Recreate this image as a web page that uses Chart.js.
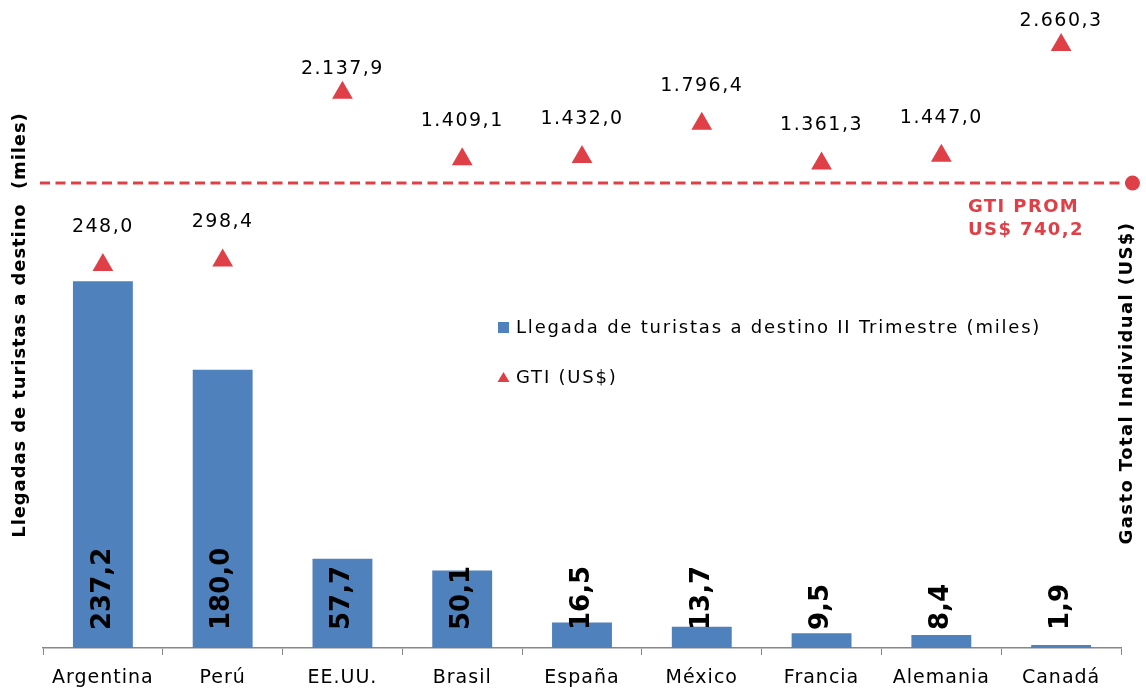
<!DOCTYPE html>
<html lang="es">
<head>
<meta charset="UTF-8">
<title>Llegadas de turistas y GTI</title>
<script src="https://cdn.jsdelivr.net/npm/chart.js"></script>
<style>
  html, body { margin: 0; padding: 0; background: #fff; }
  .wrap { width: 1146px; height: 691px; position: relative; }
</style>
</head>
<body>
<div class="wrap"><canvas id="chart"></canvas></div>
<script>
const paises = ['Argentina', 'Perú', 'EE.UU.', 'Brasil', 'España', 'México', 'Francia', 'Alemania', 'Canadá'];
const llegadas = [237.2, 180.0, 57.7, 50.1, 16.5, 13.7, 9.5, 8.4, 1.9];
const gti = [248.0, 298.4, 2137.9, 1409.1, 1432.0, 1796.4, 1361.3, 1447.0, 2660.3];
const gtiPromedio = 740.2;
const gtiLineaNivel = 1147; // where the dashed average line sits on the GTI axis in the picture

const rojo = '#df3f46';
const azul = '#4f81bd';
// how far each GTI label sits above its triangle (two were nudged down in the original)
const subidaEtiqueta = [38, 38, 24, 38, 38, 38, 38, 38, 24];
Chart.defaults.font.family = '"DejaVu Sans", Verdana, sans-serif';

// 2137.9 -> "2.137,9"
function fmt(v) {
  const partes = v.toFixed(1).split('.');
  return partes[0].replace(/\B(?=(\d{3})+(?!\d))/g, '.') + ',' + partes[1];
}

function textoVertical(ctx, texto, x, y) {
  ctx.save();
  ctx.translate(x, y);
  ctx.rotate(-Math.PI / 2);
  ctx.fillText(texto, 0, 0);
  ctx.restore();
}

const dibujo = {
  id: 'dibujo',
  beforeDraw(chart) {
    chart.ctx.letterSpacing = '1px';
  },
  beforeDatasetsDraw(chart) {
    const ctx = chart.ctx;
    const area = chart.chartArea;
    const y = chart.scales.y2.getPixelForValue(gtiLineaNivel);
    ctx.save();
    ctx.strokeStyle = rojo;
    ctx.lineWidth = 3;
    ctx.setLineDash([10, 5.5]);
    ctx.beginPath();
    ctx.moveTo(area.left - 3, y);
    ctx.lineTo(area.right + 5, y);
    ctx.stroke();
    ctx.setLineDash([]);
    ctx.fillStyle = rojo;
    ctx.beginPath();
    ctx.arc(area.right + 11.5, y, 7.5, 0, Math.PI * 2);
    ctx.fill();
    ctx.font = 'bold 18px "DejaVu Sans"';
    ctx.letterSpacing = '1.4px';
    ctx.textAlign = 'left';
    ctx.textBaseline = 'middle';
    ctx.fillText('GTI PROM', 968, y + 24);
    ctx.fillText('US$ ' + fmt(gtiPromedio), 968, y + 47);
    ctx.restore();
  },
  afterDatasetsDraw(chart) {
    const ctx = chart.ctx;
    const barras = chart.getDatasetMeta(0).data;
    const puntos = chart.getDatasetMeta(1).data;
    const base = chart.scales.y.getPixelForValue(0);
    ctx.save();
    ctx.fillStyle = '#000';
    ctx.textBaseline = 'middle';

    // valores de las barras, verticales
    ctx.font = 'bold 26px "DejaVu Sans"';
    ctx.letterSpacing = '0px';
    ctx.textAlign = 'left';
    barras.forEach((b, i) => textoVertical(ctx, fmt(llegadas[i]), b.x, base - 18));

    // valores GTI sobre los triangulos
    ctx.font = '19px "DejaVu Sans"';
    ctx.letterSpacing = '1.5px';
    ctx.textAlign = 'center';
    puntos.forEach((p, i) => ctx.fillText(fmt(gti[i]), p.x, p.y - subidaEtiqueta[i]));

    // leyenda
    const ds = chart.data.datasets;
    ctx.font = '18px "DejaVu Sans"';
    ctx.letterSpacing = '1.8px';
    ctx.textAlign = 'left';
    ctx.fillStyle = azul;
    ctx.fillRect(498, 322, 11, 11);
    ctx.fillStyle = rojo;
    ctx.beginPath();
    ctx.moveTo(503.5, 372);
    ctx.lineTo(509.5, 382);
    ctx.lineTo(497.5, 382);
    ctx.closePath();
    ctx.fill();
    ctx.fillStyle = '#000';
    ctx.fillText(ds[0].label, 516, 328);
    ctx.fillText(ds[1].label, 516, 378);

    // titulos de ejes
    ctx.font = 'bold 18px "DejaVu Sans"';
    ctx.textAlign = 'center';
    ctx.letterSpacing = '0.9px';
    textoVertical(ctx, 'Llegadas de turistas a destino  (miles)', 20, 325);
    ctx.letterSpacing = '1.4px';
    textoVertical(ctx, 'Gasto Total Individual (US$)', 1127, 383);

    ctx.restore();
  }
};

new Chart(document.getElementById('chart'), {
  data: {
    labels: paises,
    datasets: [
      {
        type: 'bar',
        label: 'Llegada de turistas a destino II Trimestre (miles)',
        data: llegadas,
        backgroundColor: azul,
        yAxisID: 'y',
        barPercentage: 0.5,
        categoryPercentage: 1,
        order: 2
      },
      {
        type: 'line',
        label: 'GTI (US$)',
        data: gti,
        yAxisID: 'y2',
        showLine: false,
        pointStyle: 'triangle',
        pointRadius: 12,
        pointBackgroundColor: rojo,
        pointBorderColor: rojo,
        pointBorderWidth: 0,
        order: 1
      }
    ]
  },
  options: {
    responsive: true,
    maintainAspectRatio: false,
    animation: false,
    layout: { padding: { left: 43, right: 25, top: 14, bottom: 1 } },
    plugins: { legend: { display: false }, tooltip: { enabled: false } },
    scales: {
      x: {
        grid: { drawOnChartArea: false, color: '#878787', tickLength: 7, offset: true },
        border: { color: '#878787', width: 1.5 },
        ticks: { color: '#000', font: { size: 19 }, padding: 12, maxRotation: 0 },
        afterFit(scale) { scale.height = 42; }
      },
      y: { display: false, min: 0, max: 410 },
      y2: { display: false, min: -3950, max: 3000 }
    }
  },
  plugins: [dibujo]
});
</script>
</body>
</html>
